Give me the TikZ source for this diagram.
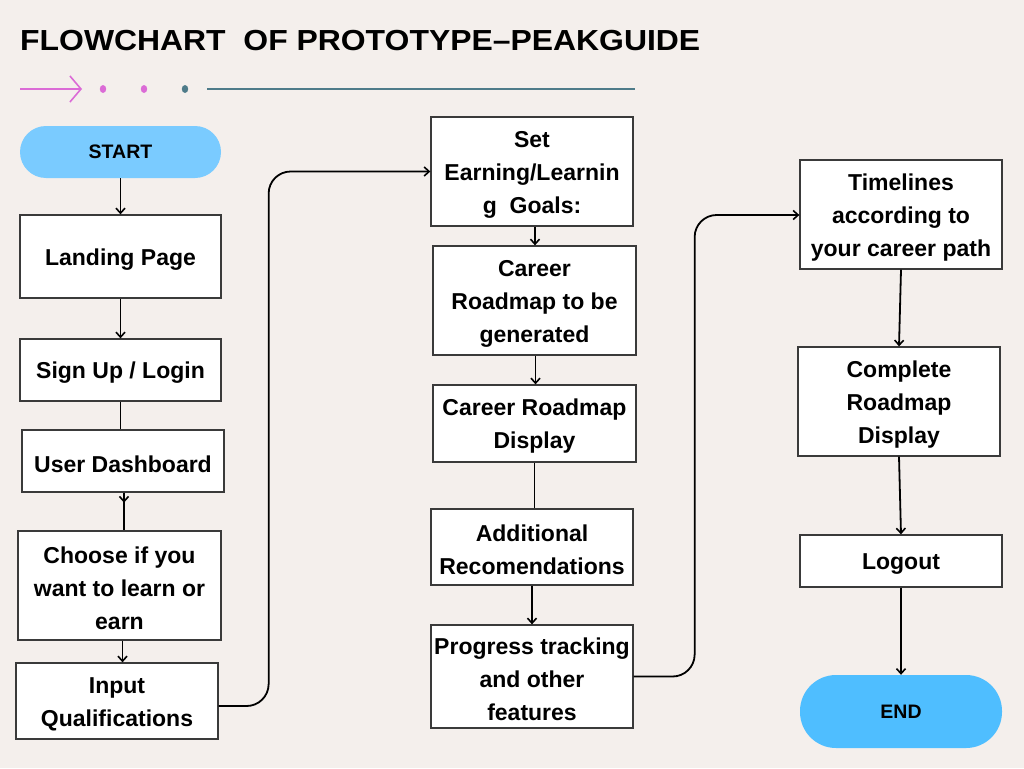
\documentclass[tikz,border=0pt]{standalone}
\usepackage{fontspec}
\setmainfont{Liberation Sans}
\usetikzlibrary{arrows.meta}
\definecolor{bgc}{HTML}{F4EFEC}
\definecolor{startblue}{HTML}{7ACBFF}
\definecolor{endblue}{HTML}{4FBEFF}
\definecolor{pinkc}{HTML}{DB6BD6}
\definecolor{tealc}{HTML}{4E7B89}
\definecolor{boxline}{HTML}{3A3A3A}
\tikzset{
  procbox/.style={draw=boxline, line width=1.3pt, fill=white, inner sep=0pt},
  proctext/.style={inner sep=0pt, align=center, font=\bfseries\fontsize{23}{33}\selectfont},
  termbox/.style={fill=#1, rounded corners=26pt, inner sep=0pt, align=center,
    font=\bfseries\fontsize{19.5}{22}\selectfont},
  conn/.style={line width=1.8pt, draw=black},
  arr/.style={conn, -{Straight Barb[length=5pt,width=9pt,line width=1.6pt]}},
}
\newcommand{\bx}[6]{% name, x1, y1, x2, y2, text
  \node[procbox, minimum width={#4-#2}, minimum height={#5-#3}] (#1) at ({(#2+#4)/2},{(#3+#5)/2}) {};
  \node[proctext] (#1-t) at ([yshift=-3pt]#1.center) {#6};}
\begin{document}
\begin{tikzpicture}[x=1pt,y=-1pt]
\fill[bgc] (0,0) rectangle (1024,768);
\useasboundingbox (0,0) rectangle (1024,768);

% title
\node[anchor=west, inner sep=0pt, font=\bfseries\fontsize{29}{30}\selectfont] (title) at (20,41)
  {\scalebox{1.1}[1]{FLOWCHART \ OF PROTOTYPE--PEAKGUIDE}};

% decoration
\coordinate (pa) at (20,89);
\coordinate (pb) at (82,89);
\draw[pinkc, line width=1.6pt, -{Straight Barb[length=11pt,width=26pt,line width=1.6pt]}] (pa) -- (pb);
\fill[pinkc] (103,89) ellipse (3.2 and 4);
\fill[pinkc] (144,89) ellipse (3.2 and 4);
\fill[tealc] (185,89) ellipse (3.2 and 4);
\coordinate (ta) at (207,89);
\coordinate (tb) at (635,89);
\draw[tealc, line width=2.2pt] (ta) -- (tb);

% terminals
\node[termbox=startblue, minimum width=201pt, minimum height=52pt] (start) at (120.5,152) {START};
\node[termbox=endblue, minimum width=202pt, minimum height=73pt, rounded corners=36pt] (end) at (901,711.5) {END};

% left column
\bx{land}{20}{215}{221}{298}{Landing Page}
\bx{sign}{20}{339}{221}{401}{Sign Up / Login}
\bx{dash}{22}{430}{224}{492}{User Dashboard}
\bx{choose}{18}{531}{221}{640}{Choose if you\\want to learn or\\earn}
\bx{inp}{16}{663}{218}{739}{Input\\Qualifications}

% middle column
\bx{goal}{431}{117}{633}{226}{Set\\Earning/Learnin\\g\ \ Goals:}
\bx{gen}{433}{246}{636}{355}{Career\\Roadmap to be\\generated}
\bx{disp}{433}{385}{636}{462}{Career Roadmap\\Display}
\bx{add}{431}{509}{633}{585}{Additional\\Recomendations}
\bx{prog}{431}{625}{633}{728}{Progress tracking\\and other\\features}

% right column
\bx{time}{800}{160}{1002}{269}{Timelines\\according to\\your career path}
\bx{comp}{798}{347}{1000}{456}{Complete\\Roadmap\\Display}
\bx{logout}{800}{535}{1002}{587}{Logout}

% connectors
\draw[arr] (start.south) -- (land.north);
\draw[arr] (land.south) -- (sign.north);
\draw[conn] (sign.south) -- (sign.south |- dash.north);
\draw[conn] ([xshift=1pt]dash.south) -- ([xshift=1pt]dash.south |- choose.north);
\draw[arr] ([xshift=1pt]dash.south) -- ++(0,10);
\draw[arr] ([xshift=3pt]choose.south) -- ([xshift=3pt]choose.south |- inp.north);
\draw[arr, rounded corners=22pt] ([yshift=-5pt]inp.east) -- ++(50,0) |- (goal.west);
\draw[arr] ([xshift=3pt]goal.south) -- ([xshift=3pt]goal.south |- gen.north);
\draw[arr] ([xshift=1pt]gen.south) -- ([xshift=1pt]gen.south |- disp.north);
\draw[conn] (disp.south) -- (disp.south |- add.north);
\draw[arr] (add.south) -- (add.south |- prog.north);
\draw[arr, rounded corners=22pt] (prog.east) -- ++(61,0) |- ([yshift=-0.5pt]time.west);
\draw[arr] (time.south) -- (comp.north);
\draw[arr] (comp.south) -- (logout.north);
\draw[arr] (logout.south) -- (end.north);
\end{tikzpicture}
\end{document}
